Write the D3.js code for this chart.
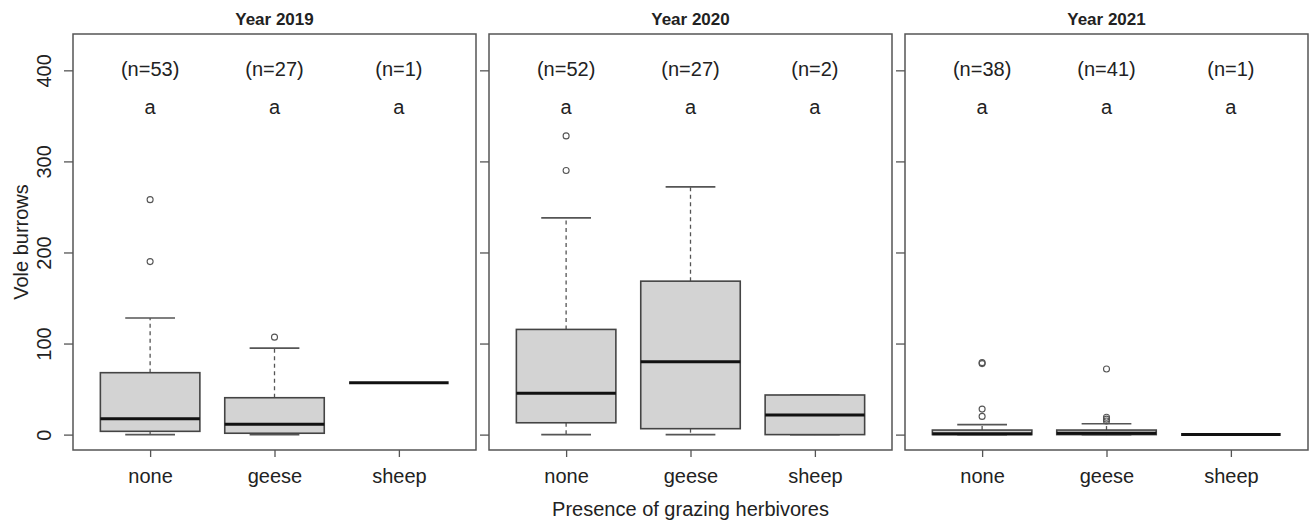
<!DOCTYPE html>
<html>
<head>
<meta charset="utf-8">
<script src="https://cdn.jsdelivr.net/npm/d3@7"></script>
<style>
  body { margin: 0; background: #fff; }
  text { font-family: "Liberation Sans", Arial, sans-serif; fill: #222; }
</style>
</head>
<body>
<div id="chart"></div>
<script>
// data
var years = ["Year 2019", "Year 2020", "Year 2021"];
var groups = ["none", "geese", "sheep"];
var counts = [[53, 27, 1], [52, 27, 2], [38, 41, 1]];
var letters = [["a", "a", "a"], ["a", "a", "a"], ["a", "a", "a"]];
var lowWhisker = [[0, 0, 57], [0, 0, 0], [0, 0, 0]];
var q1 = [[3.6, 1.5, 57], [13, 6.5, 0], [0, 0, 0]];
var median = [[17.5, 11.5, 57], [45.5, 80, 21.5], [1, 1.5, 0]];
var q3 = [[68, 40.5, 57], [115.5, 168.5, 43.5], [5, 5, 0]];
var highWhisker = [[128, 95, 57], [238, 272, 43.5], [11, 12, 0]];
var outliers = [
  [[190, 258], [107], []],
  [[290, 328], [], []],
  [[20, 28, 78, 79], [15, 17, 19, 72], []]
];
var yTicks = [0, 100, 200, 300, 400];

var W = 1312, H = 522;
var panelLeft = [73, 489, 905], panelW = 403;
var plotTop = 34, plotBottom = 450;
var nLabelY = 400, letterY = 359;

var svg = d3.select("#chart").append("svg")
  .attr("width", W)
  .attr("height", H);

var y = d3.scaleLinear().domain([-16.9, 439.9]).range([plotBottom, plotTop]);

years.forEach(function(yr, p) {
  var x = d3.scaleLinear().domain([0.38, 3.62]).range([panelLeft[p], panelLeft[p] + panelW]);
  var unit = x(2) - x(1);
  var bw = unit * 0.8;
  var g = svg.append("g");

  // y axis (labels only on first panel)
  var ya = g.append("g")
    .attr("transform", "translate(" + panelLeft[p] + ",0)")
    .call(d3.axisLeft(y).tickValues(yTicks).tickSize(9).tickPadding(14)
      .tickFormat(p == 0 ? d3.format("d") : function() { return ""; }));
  ya.select(".domain").remove();
  ya.selectAll(".tick line").attr("stroke", "#555").attr("stroke-width", 1.3);
  ya.selectAll(".tick text")
    .attr("font-size", 20)
    .attr("text-anchor", "middle")
    .attr("x", null).attr("dy", null)
    .attr("transform", "translate(-29,0) rotate(-90)")
    .attr("y", 7);

  // x axis
  var xa = g.append("g")
    .attr("transform", "translate(0," + plotBottom + ")")
    .call(d3.axisBottom(x).tickValues([1, 2, 3]).tickSize(7).tickPadding(12)
      .tickFormat(function(d) { return groups[d - 1]; }));
  xa.select(".domain").remove();
  xa.selectAll(".tick line").attr("stroke", "#555").attr("stroke-width", 1.3);
  xa.selectAll(".tick text").attr("font-size", 20);

  groups.forEach(function(gr, i) {
    var cx = x(i + 1);
    // dashed whiskers
    g.append("line").attr("x1", cx).attr("x2", cx)
      .attr("y1", y(q3[p][i])).attr("y2", y(highWhisker[p][i]))
      .attr("stroke", "#555").attr("stroke-width", 1.3).attr("stroke-dasharray", "4,3.5");
    g.append("line").attr("x1", cx).attr("x2", cx)
      .attr("y1", y(q1[p][i])).attr("y2", y(lowWhisker[p][i]))
      .attr("stroke", "#555").attr("stroke-width", 1.3).attr("stroke-dasharray", "4,3.5");
    // staples
    [lowWhisker[p][i], highWhisker[p][i]].forEach(function(v) {
      g.append("line").attr("x1", cx - bw / 4).attr("x2", cx + bw / 4)
        .attr("y1", y(v)).attr("y2", y(v))
        .attr("stroke", "#555").attr("stroke-width", 1.6);
    });
    // box
    g.append("rect")
      .attr("x", cx - bw / 2).attr("width", bw)
      .attr("y", y(q3[p][i])).attr("height", y(q1[p][i]) - y(q3[p][i]))
      .attr("fill", "#d3d3d3").attr("stroke", "#444").attr("stroke-width", 1.6);
    // median
    g.append("line").attr("x1", cx - bw / 2).attr("x2", cx + bw / 2)
      .attr("y1", y(median[p][i])).attr("y2", y(median[p][i]))
      .attr("stroke", "#111").attr("stroke-width", 3);
    // outliers
    g.selectAll(null).data(outliers[p][i]).enter().append("circle")
      .attr("cx", cx).attr("cy", function(d) { return y(d); })
      .attr("r", 3).attr("fill", "none").attr("stroke", "#555").attr("stroke-width", 1.1);
    // n and letters
    g.append("text").attr("x", cx).attr("y", y(nLabelY)).attr("dy", "0.3em")
      .attr("text-anchor", "middle").attr("font-size", 20)
      .text("(n=" + counts[p][i] + ")");
    g.append("text").attr("x", cx).attr("y", y(letterY)).attr("dy", "0.3em")
      .attr("text-anchor", "middle").attr("font-size", 20)
      .text(letters[p][i]);
  });

  // frame
  g.append("rect")
    .attr("x", panelLeft[p]).attr("y", plotTop)
    .attr("width", panelW).attr("height", plotBottom - plotTop)
    .attr("fill", "none").attr("stroke", "#555").attr("stroke-width", 1.5);

  // title
  g.append("text")
    .attr("x", panelLeft[p] + panelW / 2).attr("y", 25)
    .attr("text-anchor", "middle").attr("font-size", 17).attr("font-weight", "bold")
    .text(yr);
});

svg.append("text")
  .attr("transform", "translate(28," + (plotTop + plotBottom) / 2 + ") rotate(-90)")
  .attr("text-anchor", "middle").attr("font-size", 20)
  .text("Vole burrows");

svg.append("text")
  .attr("x", panelLeft[1] + panelW / 2).attr("y", 516)
  .attr("text-anchor", "middle").attr("font-size", 20)
  .text("Presence of grazing herbivores");
</script>
</body>
</html>
